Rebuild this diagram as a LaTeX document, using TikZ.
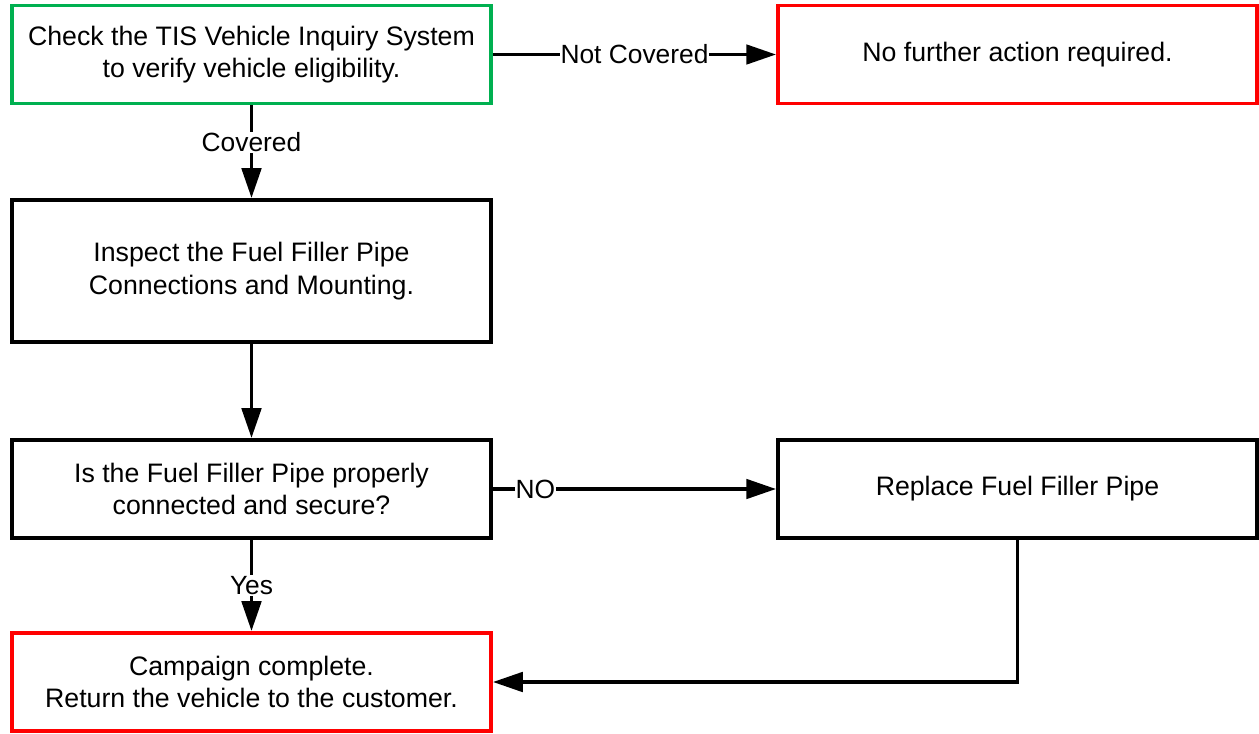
\documentclass[tikz,border=0pt]{standalone}
\usepackage{fontspec}
\setmainfont{Liberation Sans}
\usetikzlibrary{arrows.meta,positioning}
\definecolor{boxgreen}{RGB}{0,176,80}
\definecolor{boxred}{RGB}{255,0,0}

\begin{document}
\begin{tikzpicture}[x=0.02cm,y=-0.02cm,
	stepbox/.style={draw,line width=2.2pt,align=center,minimum width=9.58cm,minimum height=1.96cm,inner sep=0pt,font=\fontsize{15.2}{18.6}\selectfont},
	flow/.style={-{Triangle[length=17pt,width=11pt]},line width=2.2pt},
	lbl/.style={fill=white,inner sep=0.5pt,font=\fontsize{15}{17}\selectfont}]
	\useasboundingbox (0,0) rectangle (1259,734);
	\node[stepbox,draw=boxgreen](check) at (251.5,54.5) {Check the TIS Vehicle Inquiry System\\to verify vehicle eligibility.};
	\node[stepbox,draw=boxred](none) at (1017.5,54.5) {No further action required.};
	\node[stepbox,minimum height=2.84cm](inspect) at (251.5,271) {Inspect the Fuel Filler Pipe\\Connections and Mounting.};
	\node[stepbox](ask) at (251.5,489) {Is the Fuel Filler Pipe properly\\connected and secure?};
	\node[stepbox](replace) at (1017.5,489) {Replace Fuel Filler Pipe};
	\node[stepbox,draw=boxred](done) at (251.5,682) {Campaign complete.\\Return the vehicle to the customer.};

	\path[flow]
		(check.east) edge node[lbl] {Not Covered} (none.west)
		(check.south) edge node[lbl,pos=0.4] {Covered} (inspect.north)
		(inspect.south) edge (ask.north)
		(ask.east) edge node[lbl,pos=0.15] {NO} (replace.west)
		(ask.south) edge node[lbl] {Yes} (done.north);
	\draw[flow] (replace.south) |- (done.east);
\end{tikzpicture}
\end{document}
